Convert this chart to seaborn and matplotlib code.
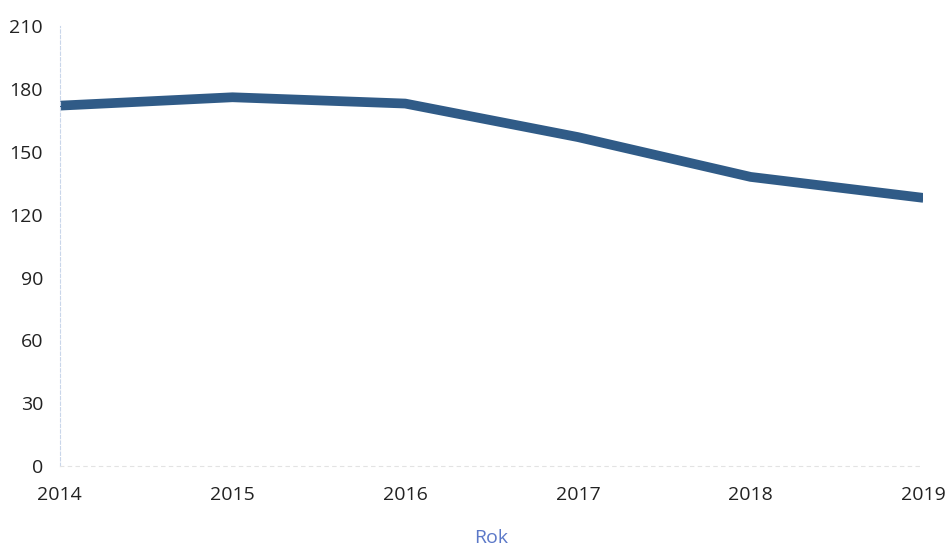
import seaborn as sns
import matplotlib.pyplot as plt
import pandas as pd

# data
years = [2014, 2015, 2016, 2017, 2018, 2019]
values = [172, 176, 173, 157, 138, 128]
y_ticks = [0, 30, 60, 90, 120, 150, 180, 210]

df = pd.DataFrame({"Rok": years, "value": values})

sns.set_style("white")
plt.rcParams['font.family'] = ['Open Sans', 'DejaVu Sans']

fig = plt.figure(figsize=(9.48, 5.53), dpi=100)
ax = fig.add_axes([0.063, 0.157, 0.911, 0.796])

sns.lineplot(data=df, x="Rok", y="value", ax=ax, color="#305b87", linewidth=7,
             solid_capstyle="butt")

ax.set_xlim(2014, 2019)
ax.set_ylim(0, 210)
ax.set_yticks(y_ticks)
ax.set_xticks(years)
ax.set_xticklabels([str(y) for y in years])
ax.tick_params(axis='both', length=0, labelsize=14, colors="#222222")
ax.tick_params(axis='x', pad=14)
ax.tick_params(axis='y', pad=12)

# faint axis lines like the scanned original
for side in ["top", "right"]:
    ax.spines[side].set_visible(False)
ax.spines["left"].set_color("#c9d6ea")
ax.spines["left"].set_linestyle((0, (3, 2)))
ax.spines["left"].set_linewidth(0.8)
ax.spines["bottom"].set_color("#e3e3e3")
ax.spines["bottom"].set_linestyle((0, (3, 4)))
ax.spines["bottom"].set_linewidth(0.8)

ax.set_ylabel("")
ax.set_xlabel("Rok", color="#5b78c8", fontsize=14, labelpad=18)

plt.savefig("out.png", dpi=100)
